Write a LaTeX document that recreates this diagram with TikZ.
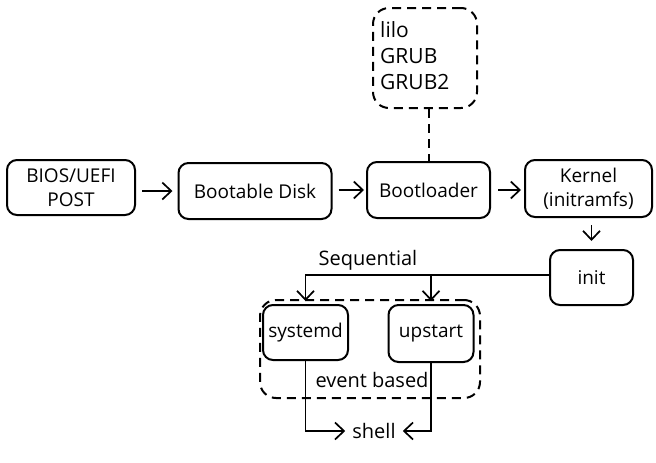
\documentclass[tikz,border=0pt]{standalone}
\usepackage{fontspec}
\setmainfont{Open Sans}
\usetikzlibrary{arrows.meta,calc}
\begin{document}
\begin{tikzpicture}[x=1pt,y=-1pt,
  box/.style={draw, line width=2pt, rounded corners=10pt, align=center, inner sep=2pt,
    font=\fontsize{19}{24}\selectfont},
  dbox/.style={draw, line width=2pt, rounded corners=16pt, dash pattern=on 9pt off 6pt},
  arr/.style={line width=1.7pt, -{Straight Barb[length=9pt,width=17pt,line width=1.7pt]}},
  lbl/.style={inner sep=2pt, font=\fontsize{20}{24}\selectfont}]
\useasboundingbox (0,0) rectangle (656,463);
\node[box, minimum width=128pt, minimum height=55pt] (bios) at (71,187.5) {BIOS/UEFI\\POST};
\node[box, minimum width=153pt, minimum height=56pt] (disk) at (255,191) {Bootable Disk};
\node[box, minimum width=123pt, minimum height=56pt] (boot) at (428.5,190) {Bootloader};
\node[box, minimum width=127pt, minimum height=57pt] (kernel) at (588.5,188.5) {Kernel\\(initramfs)};
\node[dbox, minimum width=104pt, minimum height=100pt] (lilo) at (425,58) {};
\node[lbl, align=left, anchor=north west, font=\fontsize{21}{26}\selectfont] (lilotxt) at (378,19) {lilo\\GRUB\\GRUB2};
\node[box, minimum width=83pt, minimum height=55pt] (init) at (591.5,277.5) {init};
\node[dbox, minimum width=220pt, minimum height=98pt] (grp) at (370,349) {};
\node[box, minimum width=85pt, minimum height=55pt] (systemd) at (305.5,332.5) {systemd};
\node[box, minimum width=85pt, minimum height=57pt] (upstart) at (431,333.5) {upstart};
\node[lbl] (seq) at (368,260) {Sequential};
\node[lbl] (event) at (372,380) {event based};
\node[lbl] (shell) at (374,431) {shell};

\draw[arr, shorten <=6pt, shorten >=5pt] (bios.east |- disk.west) -- (disk.west);
\draw[arr, shorten <=6pt, shorten >=2pt] (disk.east |- boot.west) -- (boot.west);
\draw[arr, shorten <=7pt, shorten >=3pt] (boot.east) -- (kernel.west |- boot.east);
\draw[line width=2pt, dash pattern=on 9pt off 6pt] (lilo.south -| boot.north) -- (boot.north);
\draw[arr, shorten <=7pt, shorten >=8pt] (init.north |- kernel.south) -- (init.north);
\draw[arr, shorten >=3pt] (init.west |- 0,275) -| (systemd.north);
\draw[arr, shorten >=3pt] (upstart.north |- 0,275) -- (upstart.north);
\draw[arr, shorten >=5pt] (systemd.south) |- (shell.west);
\draw[arr, shorten >=5pt] (upstart.south) |- (shell.east);
\end{tikzpicture}
\end{document}
